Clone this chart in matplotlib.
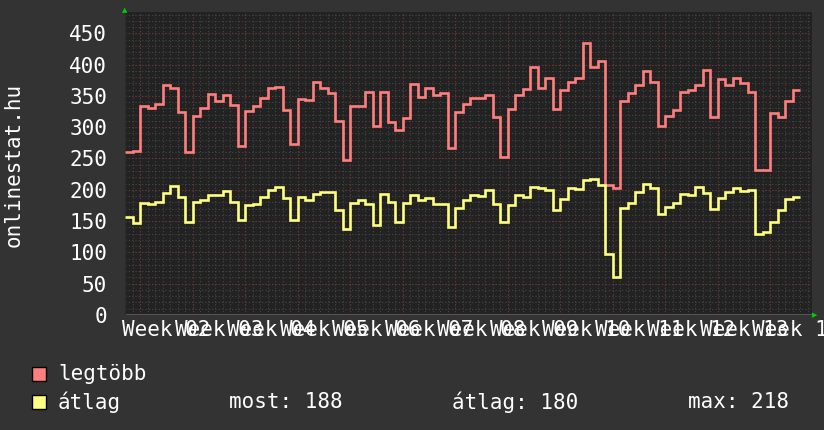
import matplotlib
matplotlib.use("Agg")
import matplotlib.pyplot as plt
import numpy as np

# ---------------- DATA (daily values) ----------------
legtobb = [260, 262, 334, 331, 337, 368, 362, 325, 260, 318,
           331, 353, 342, 352, 336, 270, 326, 334, 347, 363,
           364, 328, 273, 345, 344, 372, 363, 354, 310, 247,
           334, 334, 356, 302, 357, 309, 295, 314, 369, 349,
           363, 352, 355, 266, 325, 337, 347, 346, 351, 317,
           252, 329, 352, 361, 396, 363, 379, 329, 359, 372,
           379, 435, 396, 406, 208, 203, 342, 354, 367, 390,
           372, 302, 318, 328, 356, 359, 368, 391, 316, 377,
           368, 378, 370, 356, 232, 232, 323, 317, 342, 359]

atlag = [156, 147, 179, 178, 181, 195, 206, 189, 148, 180,
         184, 192, 192, 198, 180, 152, 175, 177, 189, 199,
         204, 187, 152, 189, 183, 194, 197, 197, 168, 138,
         179, 183, 177, 143, 194, 181, 148, 179, 192, 184,
         187, 177, 178, 140, 171, 184, 192, 190, 199, 178,
         148, 176, 191, 188, 205, 203, 200, 168, 185, 203,
         202, 216, 218, 207, 98, 60, 171, 179, 197, 209,
         203, 161, 172, 179, 194, 191, 205, 195, 169, 187,
         197, 203, 198, 199, 129, 133, 149, 167, 185, 188]

week_labels = ["Week %02d" % w for w in range(2, 15)]
y_ticks = [0, 50, 100, 150, 200, 250, 300, 350, 400, 450]

legend_names = ["legtöbb", "átlag"]
stat_labels = ["most: 188", "átlag: 180", "max: 218"]

# ---------------- STYLE ----------------
BG = "#333333"
PLOT_BG = "#222222"
RED = "#ff7f7f"
YEL = "#ffff80"
FONT = "DejaVu Sans Mono"
FS = 15

W, H = 824, 430
fig = plt.figure(figsize=(W / 100, H / 100), dpi=100, facecolor=BG)

# plot area: x 125..812 px, y 12..315 px
left, right, top, bottom = 125, 812, 12, 315
ax = fig.add_axes([left / W, 1 - bottom / H, (right - left) / W, (bottom - top) / H])
ax.set_facecolor(PLOT_BG)

px_per_day = 7.5
px_per_unit = 0.626
ax.set_xlim(0, (right - left) / px_per_day)
ax.set_ylim(0, (bottom - top) / px_per_unit)

# ---------------- GRID ----------------
xmax = ax.get_xlim()[1]
ymax = ax.get_ylim()[1]
for d in np.arange(1, xmax, 1):
    ax.axvline(d, color="#464646", lw=0.8, ls=(0, (1, 2)), zorder=1)
for v in np.arange(10, ymax, 10):
    ax.axhline(v, color="#464646", lw=0.8, ls=(0, (1, 2)), zorder=1)
for d in np.arange(2, xmax, 7):
    ax.axvline(d, color="#703434", lw=0.8, ls=(0, (1, 2)), zorder=1.5)
for v in y_ticks[1:]:
    ax.axhline(v, color="#703434", lw=0.8, ls=(0, (1, 2)), zorder=1.5)

# ---------------- LINES ----------------
edges = np.arange(len(legtobb) + 1)
ax.stairs(legtobb, edges, color=RED, lw=1.9, baseline=None, zorder=3)
ax.stairs(atlag, edges, color=YEL, lw=1.9, baseline=None, zorder=3)

# ---------------- AXES ----------------
for s in ax.spines.values():
    s.set_visible(False)
ax.axhline(0, color="#555555", lw=1.5, zorder=2)
ax.axvline(0, color="#2a2a2a", lw=1, zorder=2)

ax.set_xticks([])
ax.set_yticks(y_ticks)
ax.set_yticklabels([str(v) for v in y_ticks], family=FONT, fontsize=FS, color="white")
ax.tick_params(axis="y", length=0, pad=13)

# rrdtool-style week labels, centred mid-week (they overlap as in the original)
for k, lab in enumerate(week_labels):
    ax.text(2 + 7 * k + 3.5, -15 / px_per_unit, lab, family=FONT, fontsize=FS,
            color="white", ha="center", va="center", clip_on=False)

# green arrows
fig.text(125 / W, 1 - 10 / H, "▲", color="#00cc00", fontsize=5, ha="center", va="center")
fig.text(815 / W, 1 - 315 / H, "▶", color="#00cc00", fontsize=5, ha="center", va="center")

fig.text(14 / W, 1 - 165 / H, "onlinestat.hu", family=FONT, fontsize=FS, color="white",
         rotation=90, ha="center", va="center")

# ---------------- LEGEND ----------------
for i, (name, col) in enumerate(zip(legend_names, [RED, YEL])):
    yc = 374 + 28 * i
    fig.patches.append(plt.Rectangle((32 / W, 1 - (yc + 7) / H), 14 / W, 14 / H,
                                     transform=fig.transFigure, facecolor=col,
                                     edgecolor="black", lw=1))
    fig.text(58 / W, 1 - yc / H, name, family=FONT, fontsize=FS, color="white",
             ha="left", va="center")

for x, lab in zip([229, 452, 688], stat_labels):
    fig.text(x / W, 1 - 402 / H, lab, family=FONT, fontsize=FS, color="white",
             ha="left", va="center")

fig.savefig("out.png", dpi=100, facecolor=BG)
